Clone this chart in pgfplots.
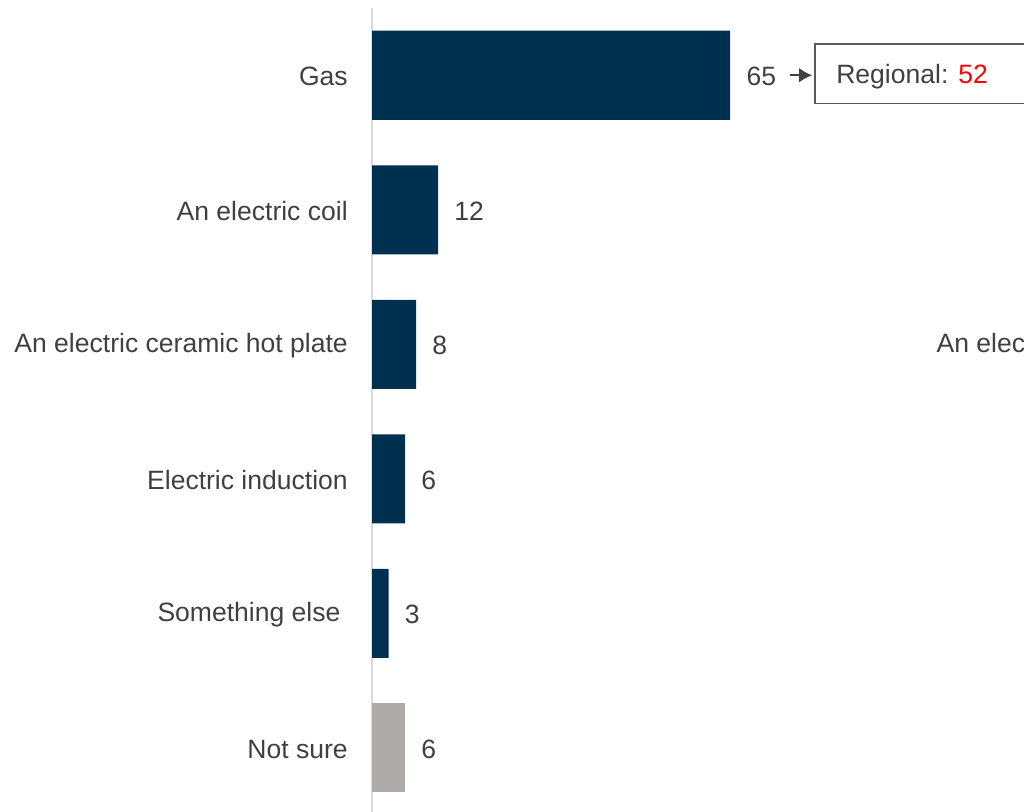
\documentclass[border=0pt]{standalone}
\usepackage{pgfplots}
\pgfplotsset{compat=1.18}
\usepackage{fontspec}
\setmainfont{Liberation Sans}
\usetikzlibrary{arrows.meta}
\definecolor{navy}{HTML}{00304F}
\definecolor{nsgray}{HTML}{AFABAB}
\definecolor{txt}{HTML}{404040}
\definecolor{axisgray}{HTML}{D9D9D9}
\definecolor{boxgray}{HTML}{595959}
\newcommand{\lblfont}{\fontsize{19.9}{24}\selectfont}
\begin{document}
\begin{tikzpicture}
\path[use as bounding box] (0,0) rectangle (768pt,609pt);
\clip (0,0) rectangle (768pt,609pt);
\begin{axis}[
  at={(279pt,-2.25pt)}, anchor=south west,
  scale only axis, width=489pt, height=605.25pt,
  xmin=0, xmax=118.3, ymin=-0.5, ymax=5.5, y dir=reverse,
  xbar, bar width=66.75pt, bar shift=0pt,
  axis x line=none, axis y line*=left,
  y axis line style={draw=axisgray, line width=1.5pt, -},
  ytick={0,...,5},
  yticklabels={Gas, An electric coil, An electric ceramic hot plate, Electric induction, {Something else\hspace*{5.5pt}\mbox{}}, Not sure},
  major tick length=0pt,
  yticklabel style={font=\lblfont, text=txt, inner sep=0pt, xshift=-18pt, yshift=-1pt},
  /pgf/number format/assume math mode=true,
  nodes near coords,
  nodes near coords style={font=\lblfont, text=txt, anchor=west, inner sep=0pt, xshift=12pt, yshift=-1pt},
  clip=false,
]
\addplot[fill=navy, draw=none] coordinates {(65,0) (12,1) (8,2) (6,3) (3,4)};
\addplot[fill=nsgray, draw=none] coordinates {(6,5)};
\draw[txt, line width=1.5pt, -{Latex[length=10pt,width=11pt]}] (axis cs:75.9,0) -- (axis cs:79.9,0);
\draw[draw=boxgray, line width=1.1pt] (axis cs:80.4,-0.234) rectangle (axis cs:125,0.212);
\node[anchor=west, inner sep=0pt, font=\lblfont, text=txt, yshift=-1pt] at (axis cs:84.2,0) {Regional: \textcolor{red}{52}};
\node[anchor=west, inner sep=0pt, font=\lblfont, text=txt, yshift=-1pt] at (axis cs:102.4,2) {An electric ceramic hot plate};
\end{axis}
\end{tikzpicture}
\end{document}
